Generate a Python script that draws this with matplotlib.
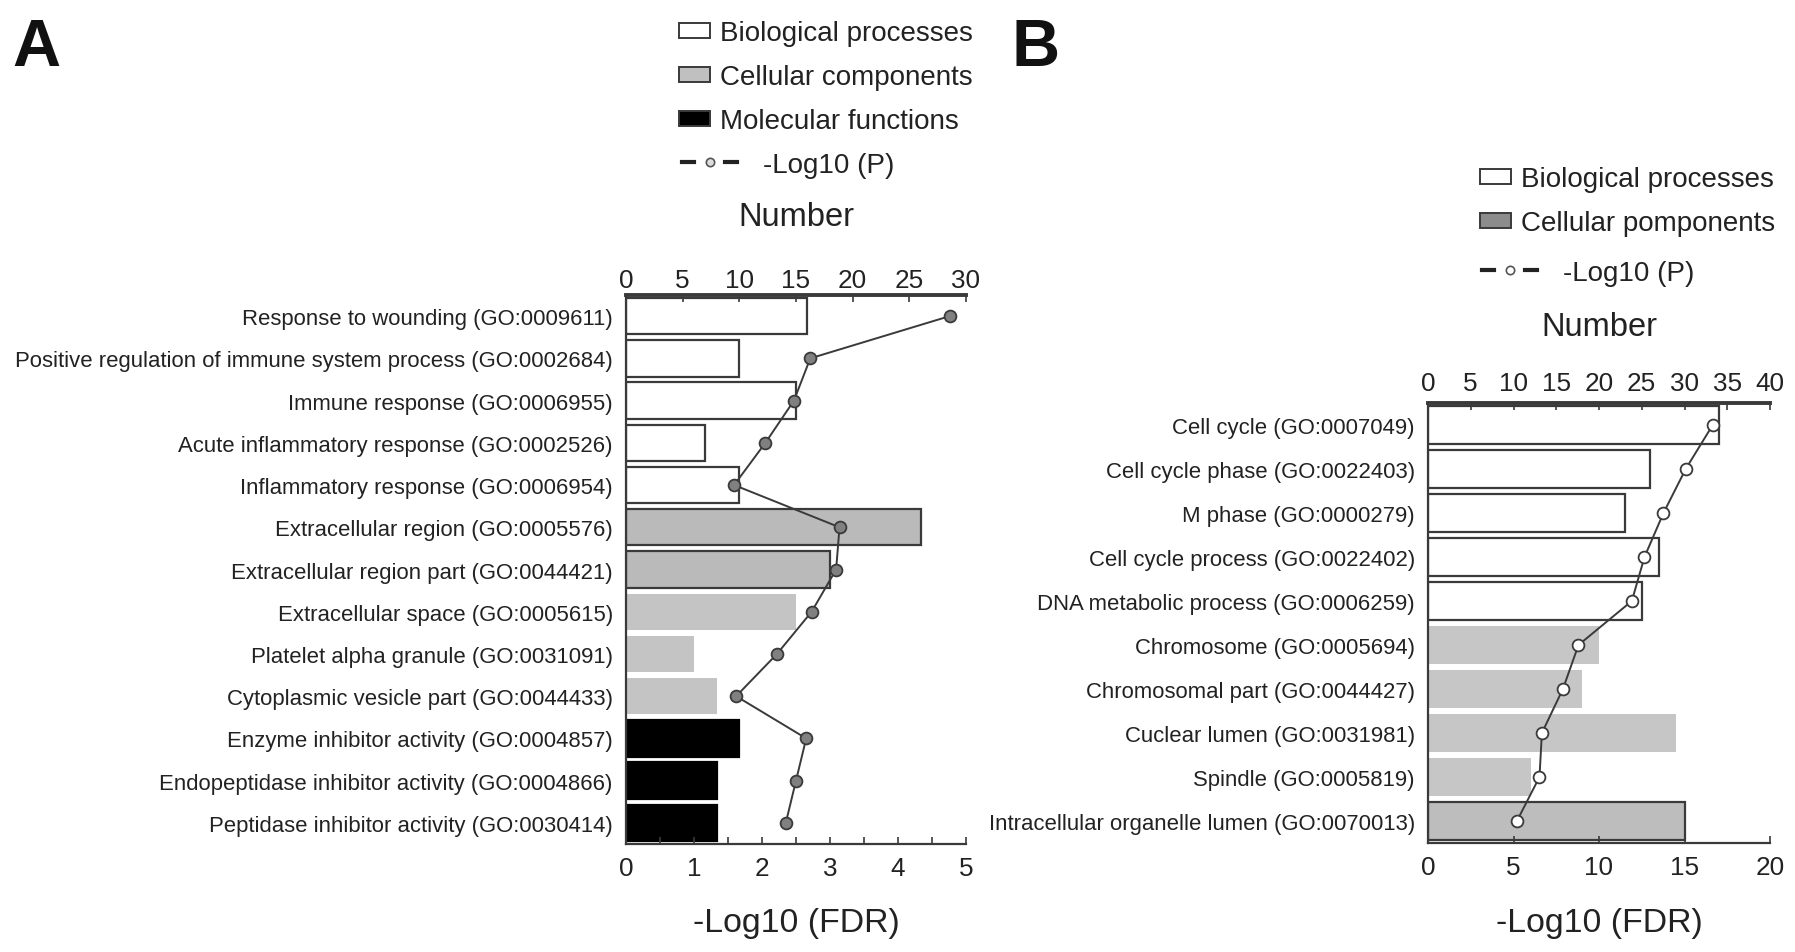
"""
GO 富集分析图 (A: 13 条, B: 10 条)
柱子 = 基因数 (上轴 Number)，折线 = -Log10 (下轴)
"""
import numpy as np
import matplotlib
matplotlib.use("Agg")
import matplotlib.pyplot as plt
from matplotlib.lines import Line2D
from matplotlib.patches import Rectangle

W, H = 1795, 953
FONT = ["Liberation Sans", "DejaVu Sans"]
plt.rcParams["font.family"] = FONT
TXT = "#222222"
LINE = "#3a3a3a"

# ===== 数据 A =====
a_terms = [
    "Response to wounding (GO:0009611)",
    "Positive regulation of immune system process (GO:0002684)",
    "Immune response (GO:0006955)",
    "Acute inflammatory response (GO:0002526)",
    "Inflammatory response (GO:0006954)",
    "Extracellular region (GO:0005576)",
    "Extracellular region part (GO:0044421)",
    "Extracellular space (GO:0005615)",
    "Platelet alpha granule (GO:0031091)",
    "Cytoplasmic vesicle part (GO:0044433)",
    "Enzyme inhibitor activity (GO:0004857)",
    "Endopeptidase inhibitor activity (GO:0004866)",
    "Peptidase inhibitor activity (GO:0030414)",
]
a_number = [16, 10, 15, 7, 10, 26, 18, 15, 6, 8, 10, 8, 8]
a_logp = [4.76, 2.71, 2.47, 2.05, 1.59, 3.14, 3.09, 2.73, 2.22, 1.62, 2.65, 2.50, 2.35]
a_legend = ["Biological processes", "Cellular components", "Molecular functions"]

# ===== 数据 B =====
b_terms = [
    "Cell cycle (GO:0007049)",
    "Cell cycle phase (GO:0022403)",
    "M phase (GO:0000279)",
    "Cell cycle process (GO:0022402)",
    "DNA metabolic process (GO:0006259)",
    "Chromosome (GO:0005694)",
    "Chromosomal part (GO:0044427)",
    "Cuclear lumen (GO:0031981)",
    "Spindle (GO:0005819)",
    "Intracellular organelle lumen (GO:0070013)",
]
b_number = [34, 26, 23, 27, 25, 20, 18, 29, 12, 30]
b_logp = [16.65, 15.07, 13.77, 12.66, 11.92, 8.80, 7.89, 6.66, 6.52, 5.20]
b_legend = ["Biological processes", "Cellular pomponents"]

# ===== 样式 =====
a_fill = ["white"] * 5 + ["#bababa"] * 2 + ["#c4c4c4"] * 3 + ["black"] * 3
a_edge = [LINE] * 7 + ["none"] * 3 + ["black"] * 3
b_fill = ["white"] * 5 + ["#c6c6c6"] * 4 + ["#bdbdbd"]
b_edge = [LINE] * 5 + ["none"] * 4 + [LINE]

LABEL_FS = 15.9
TICK_FS = 18.8
XLAB_FS = 24.4
NUM_FS = 23.5
LEG_FS = 20


def fx(x):
    return x / W


def fy(y):
    return 1 - y / H


def panel(rect, terms, number, logp, fill, edge, nmax, fmax, fstep, fminor, mfc, top_pad):
    ax = fig.add_axes(rect)
    top = ax.twiny()
    y = np.arange(len(terms))

    top.barh(y, number, height=0.86, color=fill, edgecolor=edge, linewidth=1.6)
    ax.plot(logp, y, "-o", color=LINE, lw=1.4, ms=8.5, mfc=mfc, mec=LINE, mew=1.3)
    # 折线画在柱子上面
    ax.set_zorder(top.get_zorder() + 1)
    ax.patch.set_visible(False)

    ax.set_ylim(len(terms) - 0.5, -0.5)
    ax.set_yticks(y, terms)
    ax.tick_params(axis="y", length=0, pad=9.5, labelsize=LABEL_FS, labelcolor=TXT)

    ax.set_xlim(0, fmax)
    ax.set_xticks(np.arange(0, fmax + 0.01, fstep))
    if fminor:
        ax.set_xticks(np.arange(0, fmax + 0.01, fminor), minor=True)
    ax.tick_params(axis="x", which="both", direction="in", length=5, width=1.2,
                   pad=8.5, labelsize=TICK_FS, labelcolor=TXT, color=LINE)
    top.set_xlim(0, nmax)
    top.set_xticks(np.arange(0, nmax + 1, 5))
    top.tick_params(axis="x", direction="in", length=5, width=1.2, pad=top_pad,
                    labelsize=TICK_FS, labelcolor=TXT, color=LINE)

    for s in ["top", "right"]:
        ax.spines[s].set_visible(False)
    for s in ["bottom", "right", "left"]:
        top.spines[s].set_visible(False)
    ax.spines["left"].set_linewidth(1.6)
    ax.spines["bottom"].set_linewidth(1.6)
    ax.spines["left"].set_color(LINE)
    ax.spines["bottom"].set_color(LINE)
    top.spines["top"].set_linewidth(2.8)
    top.spines["top"].set_color(LINE)

    ax.set_xlabel("-Log10 (FDR)", fontsize=XLAB_FS, color=TXT)
    top.set_xlabel("Number", fontsize=NUM_FS, color=TXT)
    return ax, top


def legend_key(x, y, label, fill=None, line_mfc=None):
    """手画图例：x, y 为像素坐标（y 为行中心）"""
    if line_mfc is None:
        fig.add_artist(Rectangle((fx(x), fy(y + 7.5)), 31 / W, 15 / H,
                                 facecolor=fill, edgecolor=LINE, lw=1.4,
                                 transform=fig.transFigure))
        fig.text(fx(x + 41), fy(y), label, fontsize=LEG_FS, color=TXT, va="center_baseline")
    else:
        for x0 in (x, x + 43):
            fig.add_artist(Line2D([fx(x0), fx(x0 + 12)], [fy(y), fy(y)], color=TXT,
                                  lw=3, transform=fig.transFigure))
        fig.add_artist(Line2D([fx(x + 27.5)], [fy(y)], marker="o", ms=6, mfc=line_mfc,
                              mec="#555555", mew=1.2, transform=fig.transFigure))
        fig.text(fx(x + 81), fy(y), label, fontsize=LEG_FS, color=TXT, va="center_baseline")


fig = plt.figure(figsize=(W / 100, H / 100), dpi=100)

# ===== A =====
axA, topA = panel([626 / W, 1 - 845 / H, 340 / W, 549 / H], a_terms, a_number, a_logp,
                  a_fill, a_edge, 30, 5, 1, 0.5, "#808080", 2)
axA.xaxis.set_label_coords(0.5, (845 - 932) / 549)
axA.xaxis.label.set_va("baseline")
topA.xaxis.set_label_coords(0.5, (845 - 226) / 549)
topA.xaxis.label.set_va("baseline")

# ===== B =====
axB, topB = panel([1428 / W, 1 - 844 / H, 342 / W, 440 / H], b_terms, b_number, b_logp,
                  b_fill, b_edge, 40, 20, 5, None, "white", 6)
axB.xaxis.set_label_coords(0.5, (844 - 932) / 440)
axB.xaxis.label.set_va("baseline")
topB.xaxis.set_label_coords(0.5, (844 - 336) / 440)
topB.xaxis.label.set_va("baseline")

# ===== 图例 =====
for i, (lab, col) in enumerate(zip(a_legend, ["white", "#c0c0c0", "black"])):
    legend_key(679, 31 + 44 * i, lab, fill=col)
legend_key(682, 163, "-Log10 (P)", line_mfc="#dddddd")

for i, (lab, col) in enumerate(zip(b_legend, ["white", "#8c8c8c"])):
    legend_key(1480, 177 + 44 * i, lab, fill=col)
legend_key(1482, 271, "-Log10 (P)", line_mfc="white")

# ===== 面板字母 =====
fig.text(fx(12), fy(66), "A", fontsize=48, fontweight="bold", color="#111111", va="baseline")
fig.text(fx(1012), fy(66), "B", fontsize=48, fontweight="bold", color="#111111", va="baseline")

fig.savefig("out.png", dpi=100)
